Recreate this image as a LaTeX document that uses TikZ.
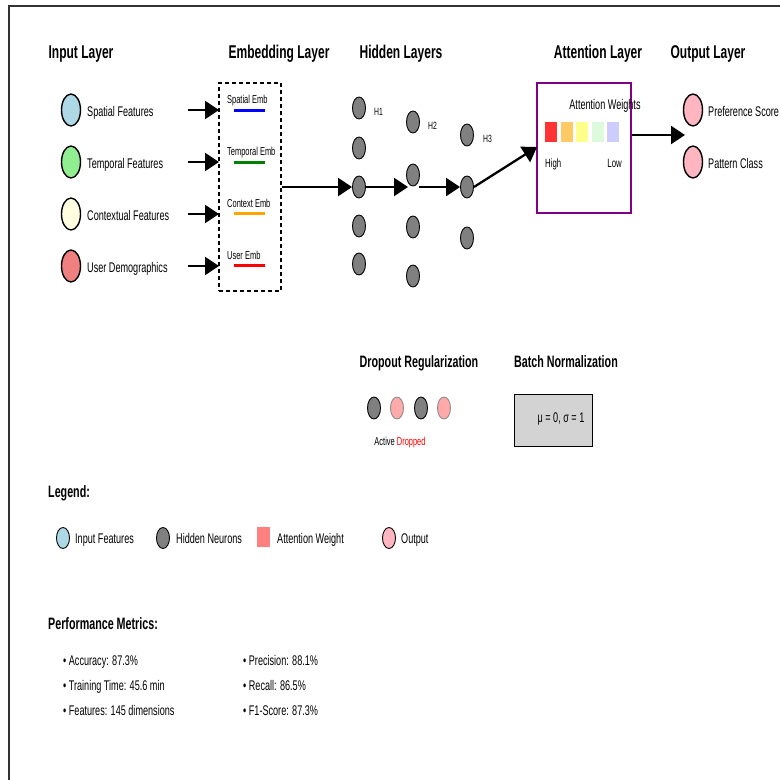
\documentclass[tikz,border=0pt]{standalone}
\usepackage{fontspec}
\setmainfont[FakeStretch=0.65]{Liberation Sans}
\usetikzlibrary{arrows.meta,shapes.geometric}
\definecolor{inblue}{HTML}{ADD8E6}
\definecolor{ingreen}{HTML}{90EE90}
\definecolor{inyellow}{HTML}{FFFFE0}
\definecolor{incoral}{HTML}{F08080}
\definecolor{outpink}{HTML}{FFB6C1}
\definecolor{neurongray}{HTML}{808080}
\definecolor{embgreen}{HTML}{008000}
\definecolor{embor}{HTML}{FFA500}
\definecolor{attpurple}{HTML}{800080}
\definecolor{bngray}{HTML}{D3D3D3}
\definecolor{w1}{HTML}{FF3333}
\definecolor{w2}{HTML}{FFC966}
\definecolor{w3}{HTML}{FFFF8C}
\definecolor{w4}{HTML}{DDFADD}
\definecolor{w5}{HTML}{CCCCFF}
\definecolor{legred}{HTML}{FF8080}
\definecolor{droppink}{HTML}{FFAAAA}
\begin{document}
\begin{tikzpicture}[x=1pt,y=-1pt,
  title/.style={font=\fontsize{18.5}{20}\selectfont\bfseries, inner sep=0, anchor=base},
  subtitle/.style={font=\fontsize{16.5}{18}\selectfont\bfseries, inner sep=0, anchor=base},
  lbl/.style={font=\fontsize{14}{16}\selectfont, anchor=base west, inner sep=0},
  emblbl/.style={font=\fontsize{11.5}{13}\selectfont, anchor=base west, inner sep=0},
  small/.style={font=\fontsize{10.5}{12}\selectfont, anchor=base west, inner sep=0},
  metric/.style={font=\fontsize{14}{16}\selectfont, anchor=base west, inner sep=0},
  bigneuron/.style={ellipse, draw=black, line width=1.4pt, minimum width=19pt, minimum height=32pt, inner sep=0},
  neuron/.style={ellipse, draw=black, line width=0.9pt, fill=neurongray, minimum width=13pt, minimum height=22pt, inner sep=0},
  legneuron/.style={ellipse, draw=black, line width=0.9pt, minimum width=13pt, minimum height=21pt, inner sep=0},
  flow/.style={line width=2.3pt, -{Triangle[length=14pt,width=18pt]}},
  embline/.style={line width=3pt},
  wsq/.style={minimum width=12pt, minimum height=20pt, inner sep=0, draw=none},
]
\useasboundingbox (0,0) rectangle (780,780);
\draw[line width=1.2pt, black!80] (9,800) -- (9,6) -- (800,6);

% titles
\node[title] (tin) at (81,58) {Input Layer};
\node[title] (temb) at (279,58) {Embedding Layer};
\node[title] (thid) at (401,58) {Hidden Layers};
\node[title] (tatt) at (598,58) {Attention Layer};
\node[title] (tout) at (708,58) {Output Layer};

% input layer
\node[bigneuron, fill=inblue] (i1) at (71,110) {};
\node[bigneuron, fill=ingreen] (i2) at (71,162) {};
\node[bigneuron, fill=inyellow] (i3) at (71,214) {};
\node[bigneuron, fill=incoral] (i4) at (71,266) {};
\node[lbl] (li1) at (87,116) {Spatial Features};
\node[lbl] (li2) at (87,168) {Temporal Features};
\node[lbl] (li3) at (87,220) {Contextual Features};
\node[lbl] (li4) at (87,272) {User Demographics};

% embedding box
\node[draw=black, line width=1.5pt, dash pattern=on 4pt off 3pt, minimum width=62pt, minimum height=208pt, inner sep=0] (emb) at (250,187) {};
\coordinate (a1s) at (188,110); \coordinate (a1e) at (219,110);
\coordinate (a2s) at (188,162); \coordinate (a2e) at (219,162);
\coordinate (a3s) at (188,214); \coordinate (a3e) at (219,214);
\coordinate (a4s) at (188,266); \coordinate (a4e) at (219,266);
\draw[flow] (a1s) -- (a1e);
\draw[flow] (a2s) -- (a2e);
\draw[flow] (a3s) -- (a3e);
\draw[flow] (a4s) -- (a4e);
\node[emblbl] (e1) at (227,103) {Spatial Emb};
\node[emblbl] (e2) at (227,155) {Temporal Emb};
\node[emblbl] (e3) at (227,207) {Context Emb};
\node[emblbl] (e4) at (227,259) {User Emb};
\draw[embline, blue] (234,110) -- (265,110);
\draw[embline, embgreen] (234,162) -- (265,162);
\draw[embline, embor] (234,213) -- (265,213);
\draw[embline, red] (234,265) -- (265,265);

% hidden layers
\foreach \y [count=\k] in {108,148,187,226,264} \node[neuron] (ha\k) at (359,\y) {};
\foreach \y [count=\k] in {122,175,227,276} \node[neuron] (hb\k) at (413,\y) {};
\foreach \y [count=\k] in {135,187,238} \node[neuron] (hc\k) at (467,\y) {};
\node[small] (h1l) at (374,115) {H1};
\node[small] (h2l) at (428,129) {H2};
\node[small] (h3l) at (483,142) {H3};

\draw[flow] (emb.east |- ha3) -- (ha3.west);
\coordinate (m1) at (408,187);
\coordinate (m2) at (419,187);
\draw[flow] (ha3.east) -- (m1);
\draw[flow] (m2) -- (hc2.west);

% attention
\node[draw=attpurple, line width=1.8pt, minimum width=94pt, minimum height=130pt, inner sep=0] (att) at (584,148) {};
\coordinate (attin) at (537,147);
\draw[flow] (hc2.east) -- (attin);
\node[font=\fontsize{14}{16}\selectfont, anchor=base, inner sep=0] (aw) at (605,109) {Attention Weights};
\node[wsq, fill=w1] (s1) at (551,132) {};
\node[wsq, fill=w2] (s2) at (567,132) {};
\node[wsq, fill=w3] (s3) at (582,132) {};
\node[wsq, fill=w4] (s4) at (598,132) {};
\node[wsq, fill=w5] (s5) at (613,132) {};
\node[font=\fontsize{12}{14}\selectfont, anchor=base west, inner sep=0] (hi) at (545,167) {High};
\node[font=\fontsize{12}{14}\selectfont, anchor=base east, inner sep=0] (lo) at (622,167) {Low};

% output
\node[bigneuron, fill=outpink] (o1) at (693,110) {};
\node[bigneuron, fill=outpink] (o2) at (693,162) {};
\node[lbl] (lo1) at (708,116) {Preference Score};
\node[lbl] (lo2) at (708,168) {Pattern Class};
\coordinate (outin) at (685,135);
\draw[flow] (att.east |- outin) -- (outin);

% dropout
\node[subtitle] (tdrop) at (419,367) {Dropout Regularization};
\node[subtitle] (tbn) at (566,367) {Batch Normalization};
\node[neuron] (d1) at (374,408) {};
\node[neuron, fill=droppink, draw=black!45] (d2) at (397,408) {};
\node[neuron] (d3) at (421,408) {};
\node[neuron, fill=droppink, draw=black!45] (d4) at (444,408) {};
\node[font=\fontsize{11.5}{13}\selectfont, anchor=base, inner sep=0] (dl) at (400,445) {Active \textcolor{red}{Dropped}};

% batch norm
\node[draw=black, line width=1pt, fill=bngray, minimum width=78pt, minimum height=52pt, inner sep=0] (bn) at (553,420) {};
\node[font=\fontsize{14}{16}\selectfont, anchor=base, inner sep=0] (bnt) at (561,422) {μ = 0, σ = 1};

% legend
\node[subtitle, anchor=base west] (leg) at (48,497) {Legend:};
\node[legneuron, fill=inblue] (lg1) at (63,538) {};
\node[lbl] (lgt1) at (75,543) {Input Features};
\node[legneuron, fill=neurongray] (lg2) at (163,538) {};
\node[lbl] (lgt2) at (176,543) {Hidden Neurons};
\node[wsq, fill=legred, minimum width=13pt, minimum height=20pt] (lg3) at (263.5,537) {};
\node[lbl] (lgt3) at (277,543) {Attention Weight};
\node[legneuron, fill=outpink] (lg4) at (389,538) {};
\node[lbl] (lgt4) at (401,543) {Output};

% metrics
\node[subtitle, anchor=base west] (perf) at (48,629) {Performance Metrics:};
\node[metric] (m11) at (63,665) {• Accuracy: 87.3\%};
\node[metric] (m12) at (63,690) {• Training Time: 45.6 min};
\node[metric] (m13) at (63,715) {• Features: 145 dimensions};
\node[metric] (m21) at (243,665) {• Precision: 88.1\%};
\node[metric] (m22) at (243,690) {• Recall: 86.5\%};
\node[metric] (m23) at (243,715) {• F1-Score: 87.3\%};
\end{tikzpicture}
\end{document}
